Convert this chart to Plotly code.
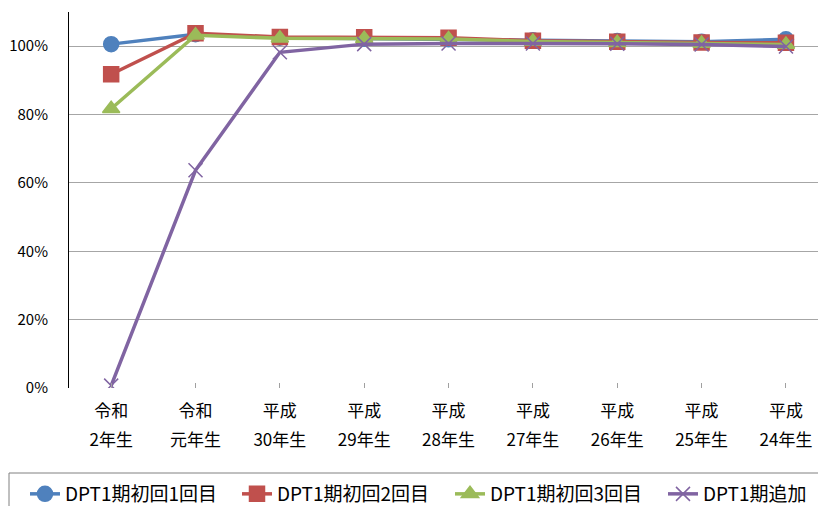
import plotly.graph_objects as go

line1_labels = ["令和", "令和", "平成", "平成", "平成", "平成", "平成", "平成", "平成"]
line2_labels = ["2年生", "元年生", "30年生", "29年生", "28年生", "27年生", "26年生", "25年生", "24年生"]
dose1 = [100.6, 103.5, 102.5, 102.2, 102.0, 101.7, 101.5, 101.3, 102.0]
dose2 = [91.8, 103.8, 102.7, 102.6, 102.5, 101.6, 101.3, 101.1, 101.0]
dose3 = [81.7, 103.2, 102.3, 102.2, 102.1, 101.4, 101.0, 100.8, 100.5]
booster = [0.7, 63.7, 98.2, 100.6, 100.8, 100.8, 100.7, 100.5, 99.9]
series_names = ["DPT1期初回1回目", "DPT1期初回2回目", "DPT1期初回3回目", "DPT1期追加"]
y_ticks = [0, 20, 40, 60, 80, 100]
y_tick_labels = ["0%", "20%", "40%", "60%", "80%", "100%"]

W, H = 818, 506
L, R, T, B = 69, 0, 12, 118
pw, ph = W - L - R, H - T - B

colors = ["#4F81BD", "#C0504D", "#9BBB59", "#8064A2"]
symbols = ["circle", "square", "triangle-up", "x-thin-open"]
sizes = [15, 15, 15, 14]
legend_ids = ["legend", "legend2", "legend3", "legend4"]
legend_px = [25, 237, 450, 663]

x = list(range(len(line1_labels)))
fig = go.Figure()
for name, vals, c, s, sz, lg in zip(series_names, [dose1, dose2, dose3, booster], colors, symbols, sizes, legend_ids):
    fig.add_trace(go.Scatter(
        x=x, y=vals, name=name, mode="lines+markers", legend=lg,
        line=dict(color=c, width=3.5),
        marker=dict(symbol=s, size=sz, color=c, line=dict(color=c, width=1.5)),
    ))
# helper trace so the second category-label axis is drawn
fig.add_trace(go.Scatter(x=x, y=[None] * len(x), xaxis="x2", yaxis="y",
                         showlegend=False, hoverinfo="skip", mode="lines"))

legend_common = dict(
    orientation="h", xref="container", yref="container",
    xanchor="left", yanchor="middle", y=1 - 494 / H,
    bgcolor="rgba(0,0,0,0)", borderwidth=0,
    font=dict(size=19, family="Noto Sans CJK JP", color="#000000"),
    itemwidth=30,
)
legends = {}
for lg, px in zip(legend_ids, legend_px):
    legends[lg] = dict(legend_common, x=px / W)

fig.update_layout(
    width=W, height=H,
    margin=dict(l=L, r=R, t=T, b=B, autoexpand=False),
    plot_bgcolor="white", paper_bgcolor="white",
    font=dict(family="Noto Sans CJK JP", color="#000000"),
    showlegend=True,
    **legends,
    xaxis=dict(
        tickmode="array", tickvals=x, ticktext=line1_labels,
        range=[-0.5, 8.38], showgrid=False, zeroline=False, showline=False,
        ticks="inside", ticklen=5, tickcolor="#A0A0A0", tickson="boundaries",
        tickfont=dict(size=17, family="Noto Sans CJK JP"),
        ticklabelstandoff=11, automargin=False,
    ),
    xaxis2=dict(
        overlaying="x", anchor="y", side="bottom",
        tickmode="array", tickvals=x, ticktext=line2_labels,
        range=[-0.5, 8.38], showgrid=False, zeroline=False, showline=False,
        ticks="", tickfont=dict(size=17, family="Noto Sans CJK JP"),
        ticklabelstandoff=40, automargin=False,
    ),
    yaxis=dict(
        range=[0, 110], tickmode="array", tickvals=y_ticks, ticktext=y_tick_labels,
        showgrid=True, gridcolor="#A6A6A6", gridwidth=1, zeroline=False,
        showline=True, linecolor="#000000", linewidth=1,
        ticks="", ticklabelstandoff=17, automargin=False,
        tickfont=dict(size=15, family="Noto Sans CJK JP"),
    ),
    shapes=[dict(
        type="rect", xref="paper", yref="paper", layer="below",
        x0=(9 - L) / pw, x1=(830 - L) / pw,
        y0=(T + ph - 473) / ph, y1=(T + ph - 530) / ph,
        line=dict(color="#808080", width=1), fillcolor="rgba(0,0,0,0)",
    )],
)

fig.write_html("out.html", config={"displayModeBar": False},
               post_script="document.body.style.margin='0';")
